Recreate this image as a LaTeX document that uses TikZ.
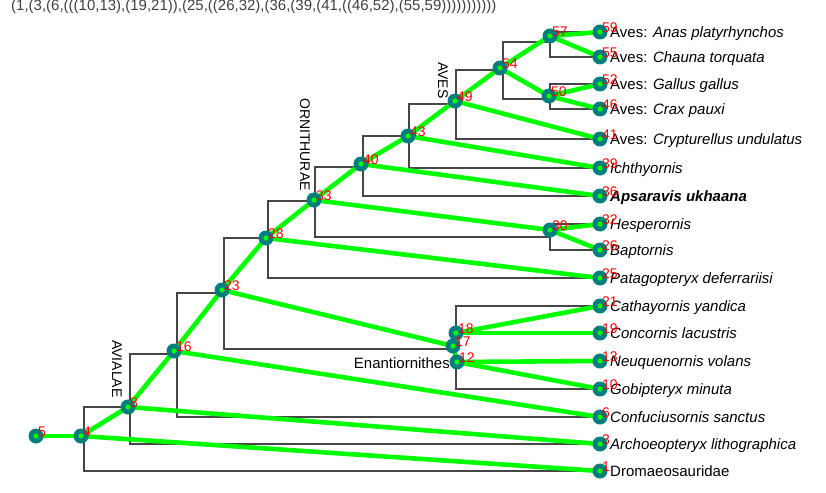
\documentclass[tikz,border=0pt]{standalone}
\usepackage{fontspec}
\setmainfont{Liberation Sans}
\usepackage{xcolor}
\definecolor{cTeal}{RGB}{0,125,125}
\definecolor{cLime}{RGB}{0,255,0}
\definecolor{cRed}{RGB}{255,0,0}
\definecolor{cTree}{RGB}{70,70,70}

\begin{document}
\begin{tikzpicture}[x=1pt,y=-1pt,
    treeline/.style={draw=cTree,line width=1.1pt},
    branch/.style={draw=cLime,line width=4.6pt},
    numlbl/.style={anchor=west,inner sep=0pt,text=cRed,font=\fontsize{14}{14}\selectfont},
    leaflbl/.style={anchor=base west,inner sep=0pt,font=\fontsize{15}{18}\selectfont},
    cladelbl/.style={rotate=-90,anchor=west,inner sep=0pt,font=\fontsize{14}{16}\selectfont}]
        \useasboundingbox (0,0) rectangle (826,492);

        % inner nodes and leaves
        \foreach \id/\x/\y in {5/36/436, 4/81/436, 8/128/407, 16/174/351, 23/222/290,
            28/266/238, 33/314/200, 40/361/164, 43/408/136, 49/455/101, 54/500/68,
            57/550/36, 50/549/96, 30/550/230, 17/453/346, 18/456/333, 12/457/362}
            \coordinate (n\id) at (\x,\y);
        \foreach \id/\y in {59/32, 55/57, 52/84, 46/109, 41/139, 39/168, 36/196, 32/224,
            26/250, 25/278, 21/306, 19/333, 13/361, 10/389, 6/417, 3/444, 1/471}
            \coordinate (n\id) at (600,\y);

        % cladogram
        \foreach \id/\x/\y in {4/84/436, 8/130/407, 16/177/354, 23/224/293, 17/456/349,
            18/456/333, 12/456/362, 28/268/238, 33/315/201, 30/550/237, 40/363/167,
            43/409/136, 49/456/104, 54/503/70, 57/550/42, 50/550/99}
            \coordinate (g\id) at (\x,\y);
        \foreach \p/\a/\b in {g4/g8/n1, g8/g16/n3, g16/g23/n6, g23/g28/g17, g17/g18/g12,
            g18/n21/n19, g12/n13/n10, g28/g33/n25, g33/g40/g30, g30/n32/n26, g40/g43/n36,
            g43/g49/n39, g49/g54/n41, g54/g57/g50, g57/n59/n55, g50/n52/n46}
            \draw[treeline] (\a) -| (\p) |- (\b);

        \draw (11,11) node[anchor=base west,inner sep=0pt,text=black!75,font=\fontsize{15}{15}\selectfont] (newick)
            {(1,(3,(6,(((10,13),(19,21)),(25,((26,32),(36,(39,(41,((46,52),(55,59)))))))))))};

        \node[cladelbl] (avialae) at (117,340) {AVIALAE};
        \node[cladelbl] (ornithurae) at (305,98) {ORNITHURAE};
        \node[cladelbl] (aves) at (443,62) {AVES};
        \node[leaflbl,anchor=base east] (enantio) at ([shift={(-7,6)}]n12) {Enantiornithes};

        \foreach \id/\txt in {59/{Aves: \textit{Anas platyrhynchos}}, 55/{Aves: \textit{Chauna torquata}},
            52/{Aves: \textit{Gallus gallus}}, 46/{Aves: \textit{Crax pauxi}},
            41/{Aves: \textit{Crypturellus undulatus}}, 39/{\textit{Ichthyornis}},
            36/{\textbf{\textit{Apsaravis ukhaana}}}, 32/{\textit{Hesperornis}},
            26/{\textit{Baptornis}}, 25/{\textit{Patagopteryx deferrariisi}},
            21/{\textit{Cathayornis yandica}}, 19/{\textit{Concornis lacustris}},
            13/{\textit{Neuquenornis volans}}, 10/{\textit{Gobipteryx minuta}},
            6/{\textit{Confuciusornis sanctus}}, 3/{\textit{Archoeopteryx lithographica}},
            1/{Dromaeosauridae}}
            \node[leaflbl] (t\id) at ([shift={(10,5.3)}]n\id) {\txt};

        % mapped branches
        \foreach \a/\b in {5/4, 4/1, 4/8, 8/3, 8/16, 16/6, 16/23, 23/28, 23/17, 17/18, 17/12,
            18/21, 18/19, 12/13, 12/10, 28/25, 28/33, 33/30, 30/32, 30/26, 33/40, 40/36,
            40/43, 43/39, 43/49, 49/41, 49/54, 54/57, 54/50, 57/59, 57/55, 50/52, 50/46}
            \draw[branch] (n\a) -- (n\b);

        \foreach \id in {5,4,8,16,23,28,33,40,43,49,54,57,50,30,17,18,12,
            59,55,52,46,41,39,36,32,26,25,21,19,13,10,6,3,1} {
            \fill[cTeal] (n\id) circle[radius=7.5pt];
            \fill[cLime] (n\id) circle[radius=2.6pt];
        }
        \foreach \id in {5,4,8,16,23,28,33,40,43,49,54,57,50,30,17,18,12,
            59,55,52,46,41,39,36,32,26,25,21,19,13,10,6,3,1}
            \node[numlbl] (l\id) at ([shift={(2,-4)}]n\id) {\id};
    \end{tikzpicture}
\end{document}
